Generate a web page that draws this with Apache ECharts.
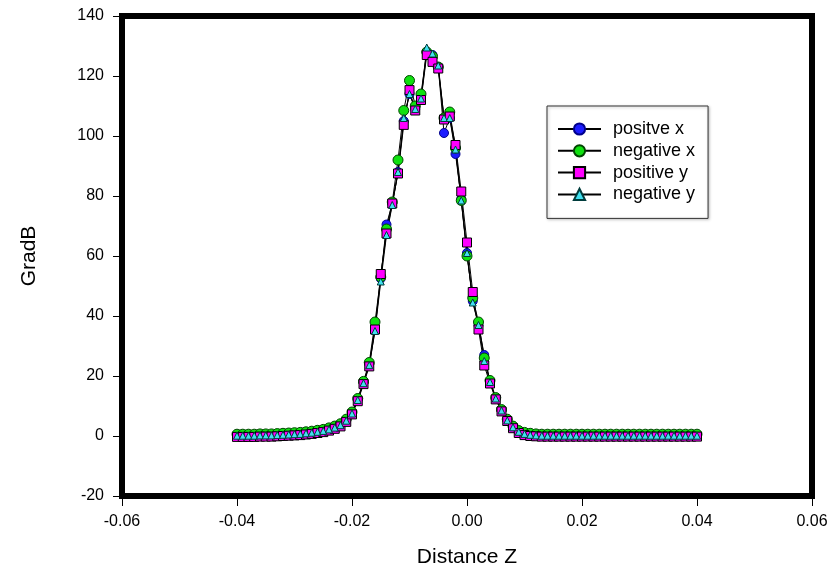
<!DOCTYPE html>
<html>
<head>
<meta charset="utf-8">
<script src="https://cdn.jsdelivr.net/npm/echarts@6/dist/echarts.min.js"></script>
<style>html,body{margin:0;padding:0;background:#fff}#c{width:835px;height:574px}</style>
</head>
<body>
<div id="c"></div>
<script>
// Distance Z sample positions
const distanceZ = [
 -0.040,-0.039,-0.038,-0.037,-0.036,-0.035,-0.034,-0.033,-0.032,-0.031,
 -0.030,-0.029,-0.028,-0.027,-0.026,-0.025,-0.024,-0.023,-0.022,-0.021,
 -0.020,-0.019,-0.018,-0.017,-0.016,-0.015,-0.014,-0.013,-0.012,-0.011,
 -0.010,-0.009,-0.008,-0.007,-0.006,-0.005,-0.004,-0.003,-0.002,-0.001,
 0.000,0.001,0.002,0.003,0.004,0.005,0.006,0.007,0.008,0.009,
 0.010,0.011,0.012,0.013,0.014,0.015,0.016,0.017,0.018,0.019,
 0.020,0.021,0.022,0.023,0.024,0.025,0.026,0.027,0.028,0.029,
 0.030,0.031,0.032,0.033,0.034,0.035,0.036,0.037,0.038,0.039,0.040
];
const positiveX = [
 0.3,0.3,0.3,0.3,0.4,0.4,0.4,0.5,0.6,0.7,
 0.8,0.9,1.1,1.3,1.6,1.9,2.4,3.0,3.8,5.3,
 7.7,12.2,17.8,24,36,52.5,70.5,77.5,88,105,
 114,109,112.5,128,127,123,101,106,94,79,
 61,45,37,27,18.2,12.6,8.6,5.4,3.1,1.6,
 1.0,0.7,0.5,0.4,0.4,0.4,0.4,0.4,0.4,0.4,
 0.4,0.3,0.3,0.3,0.3,0.3,0.3,0.3,0.3,0.3,
 0.3,0.3,0.3,0.3,0.3,0.3,0.3,0.3,0.3,0.3,0.3
];
const negativeX = [
 0.6,0.6,0.6,0.6,0.7,0.7,0.7,0.8,0.9,1.0,
 1.1,1.2,1.4,1.6,1.9,2.2,2.7,3.3,4.1,5.6,
 8.0,12.5,18.2,24.5,38,53,69,78,92,108.5,
 118.5,110,114,128,126.5,123,106,108,96,78.5,
 60,46,38,26,18.5,12.8,8.8,5.6,3.3,1.8,
 1.2,0.9,0.7,0.6,0.6,0.6,0.6,0.6,0.6,0.6,
 0.6,0.6,0.6,0.6,0.6,0.6,0.6,0.6,0.6,0.6,
 0.6,0.6,0.6,0.6,0.6,0.6,0.6,0.6,0.6,0.6,0.6
];
const positiveY = [
 -0.3,-0.3,-0.3,-0.3,-0.2,-0.2,-0.2,-0.1,0,0.1,
 0.2,0.3,0.5,0.7,1.0,1.3,1.8,2.4,3.2,4.7,
 7.2,11.6,17.3,23.2,35.5,54,67.5,77.5,87.5,103.7,
 115.3,108.5,112,127,124.7,122.5,105.5,106.5,97,81.5,
 64.5,48,35.5,23.5,17.5,12.2,8.2,5.0,2.6,1.0,
 0.3,0,-0.1,-0.2,-0.2,-0.2,-0.2,-0.2,-0.2,-0.2,
 -0.2,-0.2,-0.2,-0.2,-0.2,-0.2,-0.2,-0.2,-0.2,-0.2,
 -0.2,-0.2,-0.2,-0.2,-0.2,-0.2,-0.2,-0.2,-0.2,-0.2,-0.2
];
const negativeY = [
 0.1,0.1,0.1,0.1,0.2,0.2,0.2,0.3,0.4,0.5,
 0.6,0.7,0.9,1.1,1.4,1.7,2.2,2.8,3.6,5.1,
 7.5,12,17.6,23.6,35,51.5,67,77,88,106,
 114,109,112.5,129.5,127.5,123.5,106,106,95.5,78.5,
 61,44.5,37,25,18,12.5,8.5,5.2,2.9,1.4,
 0.7,0.4,0.2,0.1,0.1,0.1,0.1,0.1,0.1,0.1,
 0.1,0.1,0.1,0.1,0.1,0.1,0.1,0.1,0.1,0.1,
 0.1,0.1,0.1,0.1,0.1,0.1,0.1,0.1,0.1,0.1,0.1
];
const seriesNames = ['positve x','negative x','positive y','negative y'];

const FONT = "'Liberation Sans', Arial, sans-serif";
const pairs = arr => distanceZ.map((x, i) => [x, arr[i]]);
const fmtX = v => Math.abs(v) < 1e-9 ? '0.00' : v.toFixed(2);

const chart = echarts.init(document.getElementById('c'), null, {renderer: 'canvas'});
const baseSeries = {
  type: 'line', showAllSymbol: true, animation: false,
  lineStyle: {color: '#000', width: 1},
  emphasis: {disabled: true}
};
chart.setOption({
  animation: false,
  textStyle: {fontFamily: FONT},
  grid: {left: 122, right: 23, top: 16, bottom: 78, show: true,
         borderColor: '#000', borderWidth: 6, backgroundColor: 'transparent'},
  xAxis: {
    type: 'value', min: -0.06, max: 0.06, interval: 0.02,
    axisLine: {show: false, onZero: false},
    axisTick: {show: true, length: 10, lineStyle: {color: '#000', width: 1}},
    splitLine: {show: false},
    axisLabel: {margin: 18, fontSize: 16, color: '#000', fontFamily: FONT, formatter: fmtX},
    name: 'Distance Z', nameLocation: 'middle', nameGap: 51,
    nameTextStyle: {fontSize: 21, color: '#000', fontFamily: FONT}
  },
  yAxis: {
    type: 'value', min: -20, max: 140, interval: 20,
    axisLine: {show: false, onZero: false},
    axisTick: {show: true, length: 9, lineStyle: {color: '#000', width: 1}},
    splitLine: {show: false},
    axisLabel: {margin: 18, fontSize: 16, color: '#000', fontFamily: FONT},
    name: 'GradB', nameLocation: 'middle', nameGap: 82, nameRotate: 90,
    nameTextStyle: {fontSize: 21, color: '#000', fontFamily: FONT}
  },
  legend: {
    orient: 'vertical', left: 547, top: 106,
    padding: [14, 13, 15, 10], itemWidth: 43, itemHeight: 14, itemGap: 3.8,
    borderColor: '#333', borderWidth: 1, backgroundColor: '#fff',
    shadowBlur: 3, shadowColor: 'rgba(0,0,0,0.3)', shadowOffsetX: 1, shadowOffsetY: 1,
    textStyle: {fontSize: 18, lineHeight: 14, color: '#000', fontFamily: FONT, padding: [0, 0, 0, 7]},
    data: seriesNames
  },
  series: [
    Object.assign({}, baseSeries, {name: seriesNames[0], data: pairs(positiveX), symbol: 'circle', symbolSize: 9,
      itemStyle: {color: '#1c1cff', borderColor: '#00008a', borderWidth: 1}}),
    Object.assign({}, baseSeries, {name: seriesNames[1], data: pairs(negativeX), symbol: 'circle', symbolSize: 10,
      itemStyle: {color: '#10e010', borderColor: '#004400', borderWidth: 1}}),
    Object.assign({}, baseSeries, {name: seriesNames[2], data: pairs(positiveY), symbol: 'rect', symbolSize: 9,
      itemStyle: {color: '#ff00ff', borderColor: '#000', borderWidth: 1}}),
    Object.assign({}, baseSeries, {name: seriesNames[3], data: pairs(negativeY), symbol: 'triangle', symbolSize: 7,
      itemStyle: {color: '#40e0f0', borderColor: '#003c3c', borderWidth: 1}})
  ]
});
</script>
</body>
</html>
